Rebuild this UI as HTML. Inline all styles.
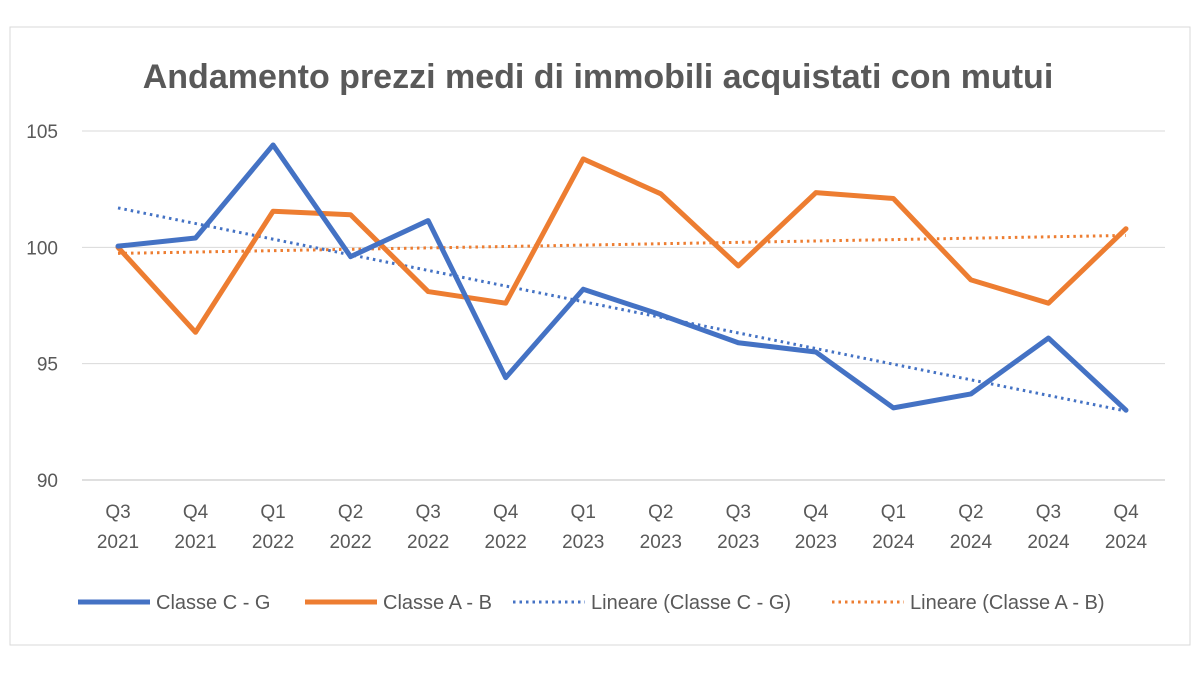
<!DOCTYPE html>
<html><head><meta charset="utf-8"><style>
body{margin:0;background:#fff;width:1200px;height:675px;overflow:hidden;font-family:"Liberation Sans",sans-serif}
</style></head><body>
<svg id="chart" width="1200" height="675">
<rect x="10" y="27" width="1180" height="618" fill="#fff" stroke="#d9d9d9"/>
<text x="598" y="88" text-anchor="middle" font-size="34" font-weight="bold" fill="#595959">Andamento prezzi medi di immobili acquistati con mutui</text>
<g id="grid"></g><g id="series"></g><g id="legend"></g>
</svg>
<script>
const categories=["Q3|2021","Q4|2021","Q1|2022","Q2|2022","Q3|2022","Q4|2022","Q1|2023","Q2|2023","Q3|2023","Q4|2023","Q1|2024","Q2|2024","Q3|2024","Q4|2024"];
const classeCG=[100.05,100.4,104.4,99.6,101.15,94.4,98.2,97.1,95.9,95.5,93.1,93.7,96.1,93.0];
const classeAB=[100.0,96.35,101.55,101.4,98.1,97.6,103.8,102.3,99.2,102.35,102.1,98.6,97.6,100.8];
const yTicks=[90,95,100,105];
const NS="http://www.w3.org/2000/svg";
const X0=118,X1=1126,Y90=480,Y105=131,PL=82,PR=1165;
const xs=i=>X0+(X1-X0)*i/(categories.length-1);
const ys=v=>Y90-(v-90)*(Y90-Y105)/15;
function mk(t,a,p){const e=document.createElementNS(NS,t);for(const k in a)e.setAttribute(k,a[k]);p.appendChild(e);return e;}
const grid=document.getElementById('grid'),ser=document.getElementById('series'),leg=document.getElementById('legend');
yTicks.forEach(v=>{
 const l=mk('line',{x1:PL,x2:PR,y1:ys(v),y2:ys(v),stroke:v===90?'#bfbfbf':'#d9d9d9','stroke-width':1},grid);
 
 
 const t=mk('text',{x:58,y:ys(v)+7,'text-anchor':'end','font-size':19,fill:'#595959'},grid);t.textContent=v;
 
 
});
categories.forEach((c,i)=>{
 const [a,b]=c.split('|');
 const t=mk('text',{x:xs(i),y:518,'text-anchor':'middle','font-size':19,fill:'#595959'},grid);
 
 
 mk('tspan',{x:xs(i),dy:0},t).textContent=a;
 mk('tspan',{x:xs(i),dy:30},t).textContent=b;
});
function trend(d){const n=d.length;let sx=0,sy=0,sxy=0,sxx=0;d.forEach((v,i)=>{sx+=i;sy+=v;sxy+=i*v;sxx+=i*i});const m=(n*sxy-sx*sy)/(n*sxx-sx*sx);const b=(sy-m*sx)/n;return [b,b+m*(n-1)];}
function drawTrend(d,col,name){const [a,b]=trend(d);const l=mk('line',{x1:xs(0),y1:ys(a),x2:xs(d.length-1),y2:ys(b),stroke:col,'stroke-width':3,'stroke-dasharray':'2.5 4'},ser);
 
 }
function drawLine(d,col,name){const p=mk('polyline',{points:d.map((v,i)=>xs(i)+','+ys(v)).join(' '),fill:'none',stroke:col,'stroke-width':5,'stroke-linejoin':'round','stroke-linecap':'round'},ser);
 
 }
drawTrend(classeAB,'#ED7D31','trend-classe-a-b');
drawTrend(classeCG,'#4472C4','trend-classe-c-g');
drawLine(classeAB,'#ED7D31','line-classe-a-b');
drawLine(classeCG,'#4472C4','line-classe-c-g');
const items=[[78,'Classe C - G','#4472C4',0],[305,'Classe A - B','#ED7D31',0],[513,'Lineare (Classe C - G)','#4472C4',1],[832,'Lineare (Classe A - B)','#ED7D31',1]];
items.forEach(([x,t,c,d],i)=>{
 const g=mk('g',{},leg);
 
 
 const a={x1:x,x2:x+72,y1:602,y2:602,stroke:c,'stroke-width':d?3:5};if(d)a['stroke-dasharray']='2.5 4';
 mk('line',a,g);
 const tx=mk('text',{x:x+78,y:609,'font-size':20,fill:'#595959'},g);tx.textContent=t;
});
</script>
</body></html>
